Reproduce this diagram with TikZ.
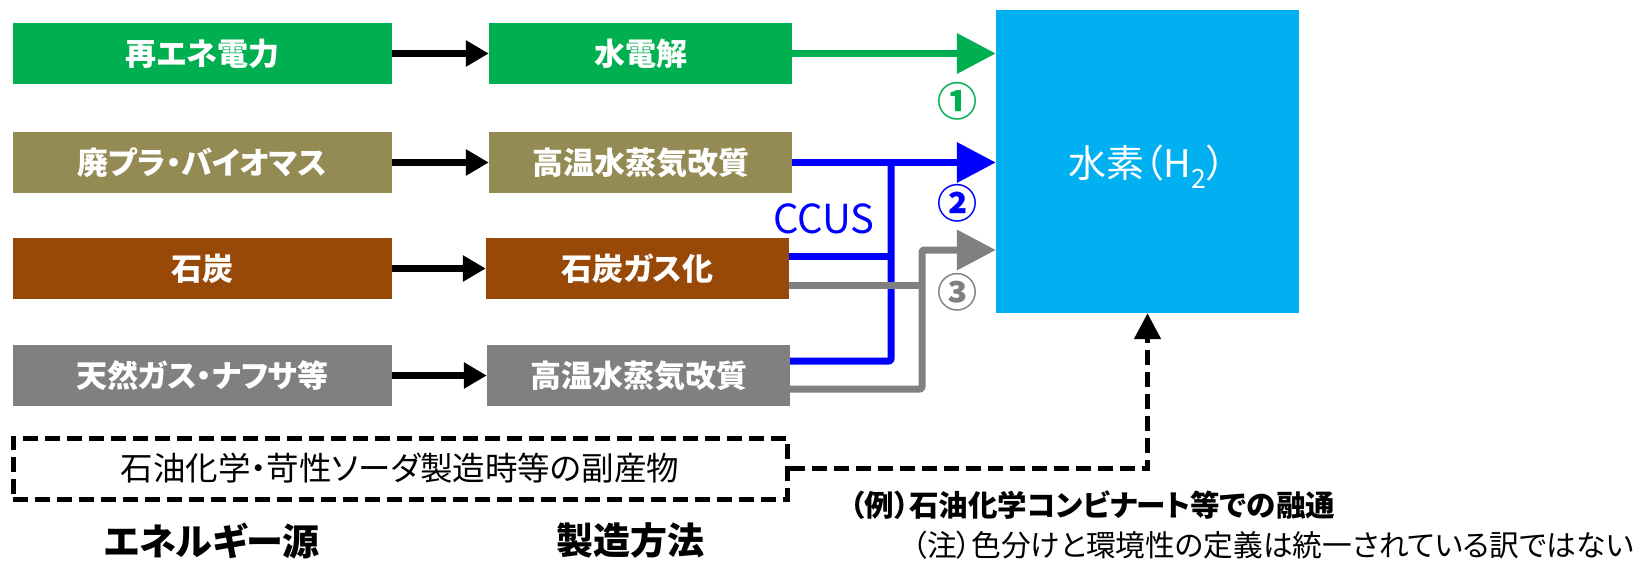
\documentclass[tikz,border=0pt]{standalone}
\usepackage{fontspec}
\newfontfamily\jp[RawFeature=+palt]{Noto Sans CJK JP}
\usetikzlibrary{arrows.meta}
\definecolor{cgreen}{HTML}{00B050}
\definecolor{colive}{HTML}{948A54}
\definecolor{cbrown}{HTML}{984807}
\definecolor{cgray}{HTML}{808080}
\definecolor{ccyan}{HTML}{00B0F0}
\definecolor{cblue}{HTML}{0000FF}
\newcommand\myfs[1]{\fontsize{#1pt}{#1pt}\selectfont}
\begin{document}
\begin{tikzpicture}[x=1pt,y=-1pt,
  box/.style={rectangle, inner sep=0pt, minimum height=61pt, text=white, font=\jp\bfseries\myfs{31}},
  src/.style={box, minimum width=379pt},
  mth/.style={box, minimum width=303pt},
  blk/.style={line width=7pt, draw=black, -{Triangle[length=23pt,width=25pt]}},
  bigtip/.style={-{Triangle[length=39pt,width=39pt]}},
  gnline/.style={line width=7pt, draw=cgreen},
  bline/.style={line width=7pt, draw=cblue, line join=round, rounded corners=2pt},
  gline/.style={line width=7pt, draw=cgray, line join=round, rounded corners=2pt},
  dline/.style={line width=5pt, draw=black, dash pattern=on 15pt off 7pt},
  lbl/.style={inner sep=0pt, font=\jp\myfs{#1}},
  blbl/.style={inner sep=0pt, font=\jp\bfseries\myfs{#1}},
]
\useasboundingbox (0,0) rectangle (1635,560);
% sources
\node[src, fill=cgreen] (s1) at (202.5,53.5) {再エネ電力};
\node[src, fill=colive] (s2) at (202.5,162.5) {廃プラ・バイオマス};
\node[src, fill=cbrown] (s3) at (202.5,268.5) {石炭};
\node[src, fill=cgray]  (s4) at (202.5,375.5) {天然ガス・ナフサ等};
% methods
\node[mth, fill=cgreen] (m1) at (640.5,53.5) {水電解};
\node[mth, fill=colive] (m2) at (640.5,162.5) {高温水蒸気改質};
\node[mth, fill=cbrown] (m3) at (637.5,268.5) {石炭ガス化};
\node[mth, fill=cgray]  (m4) at (638.5,375.5) {高温水蒸気改質};
% hydrogen
\node[rectangle, fill=ccyan, minimum width=303pt, minimum height=303pt, inner sep=0pt] (H) at (1147.5,161.5) {};
\node[lbl=38, text=white] (Ht) at (1147,167) {水素（H\textsubscript{2}）};
% by-product box
\node[draw, dline, minimum width=774pt, minimum height=61pt, inner sep=0pt, font=\jp\myfs{32.5}] (bp) at (400,468.5) {石油化学・苛性ソーダ製造時等の副産物};
% source -> method arrows
\draw[blk] (s1.east) -- (m1.west);
\draw[blk] (s2.east) -- (m2.west);
\draw[blk] (s3.east) -- (m3.west);
\draw[blk] (s4.east) -- (m4.west);
% route 1
\draw[gnline, bigtip] (m1.east) -- (m1.east -| H.west);
% route 2 (blue)
\coordinate (bj) at (891,162.5);
\coordinate (m3b) at ([yshift=12.5pt]m3.east);
\coordinate (m4b) at ([yshift=14.5pt]m4.east);
\draw[bline] (m4b) -| (bj);
\draw[bline] (m3b) -- (m3b -| bj);
\draw[line width=7pt, draw=cblue, bigtip] (m2.east) -- (m2.east -| H.west);
% route 3 (gray)
\coordinate (gj) at (922,250);
\coordinate (m3g) at ([yshift=-16.5pt]m3.east);
\coordinate (m4g) at ([yshift=-13.5pt]m4.east);
\draw[gline] (m3g) -- (m3g -| gj);
\draw[gline, bigtip] (m4g) -| (gj) -- (gj -| H.west);
% by-product dashed arrow
\draw[dline, -{Triangle[length=26pt,width=26pt]}] (bp.east) -| (H.south);
% labels
\node[lbl=40, text=cblue] (ccus) at (824,219) {CCUS};
\node[blbl=40, text=cgreen] (n1) at (957,101) {①};
\node[blbl=40, text=cblue] (n2) at (957,203) {②};
\node[blbl=40, text=cgray] (n3) at (957,292) {③};
\node[blbl=37] (es) at (212,541) {エネルギー源};
\node[blbl=37] (mm) at (630,540) {製造方法};
\node[blbl=29.5, anchor=west] (ex) at (850,505) {（例）石油化学コンビナート等での融通};
\node[lbl=29.7, anchor=west] (nt) at (912,545) {（注）色分けと環境性の定義は統一されている訳ではない};
\end{tikzpicture}
\end{document}
